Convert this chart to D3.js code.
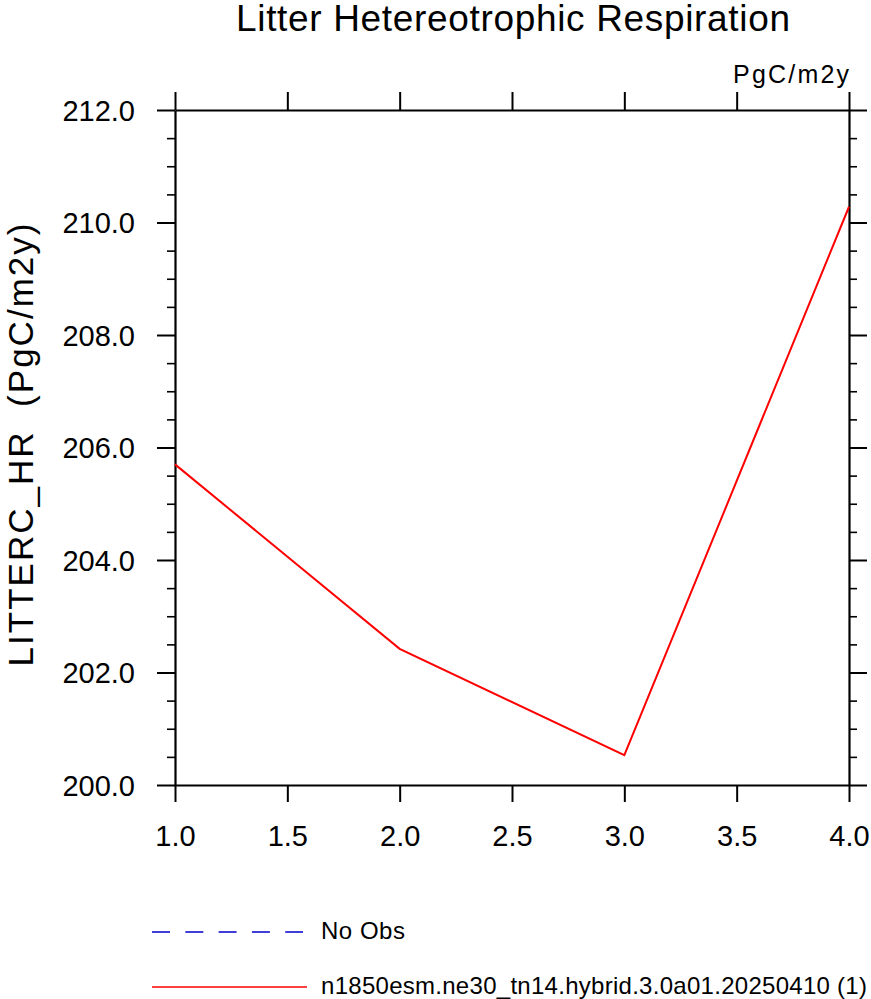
<!DOCTYPE html>
<html>
<head>
<meta charset="utf-8">
<script src="https://cdn.jsdelivr.net/npm/d3@7"></script>
<style>
  body { margin: 0; background: #fff; }
  svg text { font-family: "Liberation Sans", Arial, Helvetica, sans-serif; fill: #000; }
</style>
</head>
<body>
<div id="chart"></div>
<script>
const xValues = [1, 2, 3, 4];
const litterHR = [205.70, 202.42, 200.53, 210.28];
const xTicks = [1.0, 1.5, 2.0, 2.5, 3.0, 3.5, 4.0];
const yTicks = [200, 202, 204, 206, 208, 210, 212];
const legendLabels = ["No Obs", "n1850esm.ne30_tn14.hybrid.3.0a01.20250410 (1)"];

const w = 871, h = 999;
const plotLeft = 175, plotRight = 849, plotTop = 110, plotBottom = 785;

const svg = d3.select("#chart").append("svg")
    .attr("width", w)
    .attr("height", h);

const xScale = d3.scaleLinear().domain([1, 4]).range([plotLeft, plotRight]);
const yScale = d3.scaleLinear().domain([200, 212]).range([plotBottom, plotTop]);

const minorY = d3.range(200, 212.01, 0.5).filter(v => Math.abs(v / 2 - Math.round(v / 2)) > 1e-6);

function styleAxis(g) {
    g.select(".domain").attr("stroke-width", 2.2);
    g.selectAll(".tick line").attr("stroke-width", 2);
}

// minor ticks on y sides
[[d3.axisLeft, plotLeft], [d3.axisRight, plotRight]].forEach(([fn, x]) => {
    svg.append("g")
        .attr("transform", "translate(" + x + ",0)")
        .call(fn(yScale).tickValues(minorY).tickSize(8).tickFormat(""))
        .call(g => g.select(".domain").remove())
        .call(g => g.selectAll(".tick line").attr("stroke-width", 1.6));
});

svg.append("g")
    .attr("transform", "translate(0," + plotBottom + ")")
    .call(d3.axisBottom(xScale).tickValues(xTicks).tickSize(17).tickSizeOuter(0).tickPadding(23)
        .tickFormat(d3.format(".1f")))
    .call(styleAxis)
    .call(g => g.selectAll("text").attr("font-size", 29));

svg.append("g")
    .attr("transform", "translate(0," + plotTop + ")")
    .call(d3.axisTop(xScale).tickValues(xTicks).tickSize(18).tickSizeOuter(0).tickFormat(""))
    .call(styleAxis);

svg.append("g")
    .attr("transform", "translate(" + plotLeft + ",0)")
    .call(d3.axisLeft(yScale).tickValues(yTicks).tickSize(18).tickSizeOuter(0).tickPadding(22)
        .tickFormat(d3.format(".1f")))
    .call(styleAxis)
    .call(g => g.selectAll("text").attr("font-size", 29).attr("dy", "0.36em"));

svg.append("g")
    .attr("transform", "translate(" + plotRight + ",0)")
    .call(d3.axisRight(yScale).tickValues(yTicks).tickSize(18).tickSizeOuter(0).tickFormat(""))
    .call(styleAxis);

const line = d3.line()
    .x((d, i) => xScale(xValues[i]))
    .y(d => yScale(d));

svg.append("path")
    .datum(litterHR)
    .attr("fill", "none")
    .attr("stroke", "#ff0000")
    .attr("stroke-width", 2)
    .attr("d", line);

svg.append("text")
    .attr("x", 513)
    .attr("y", 31)
    .attr("text-anchor", "middle")
    .attr("font-size", 37)
    .attr("textLength", 554)
    .attr("lengthAdjust", "spacing")
    .text("Litter Hetereotrophic Respiration");

svg.append("text")
    .attr("x", plotRight)
    .attr("y", 83)
    .attr("text-anchor", "end")
    .attr("font-size", 25)
    .attr("textLength", 116)
    .attr("lengthAdjust", "spacing")
    .text("PgC/m2y");

svg.append("text")
    .attr("transform", "translate(33,445) rotate(-90)")
    .attr("text-anchor", "middle")
    .attr("font-size", 35)
    .attr("textLength", 443)
    .attr("lengthAdjust", "spacing")
    .style("white-space", "pre")
    .text("LITTERC_HR  (PgC/m2y)");

// legend
const legend = svg.append("g");
const legY = [932, 987];
legend.append("line")
    .attr("x1", 152).attr("x2", 303)
    .attr("y1", legY[0]).attr("y2", legY[0])
    .attr("stroke", "#0000cc")
    .attr("stroke-width", 1.3)
    .attr("stroke-dasharray", "18,15.3");
legend.append("line")
    .attr("x1", 152).attr("x2", 307)
    .attr("y1", legY[1]).attr("y2", legY[1])
    .attr("stroke", "#ff0000")
    .attr("stroke-width", 1.3);
legend.selectAll("text.leg")
    .data(legendLabels)
    .enter()
    .append("text")
    .attr("class", "leg")
    .attr("x", 321)
    .attr("y", (d, i) => legY[i] + 7)
    .attr("font-size", 24)
    .attr("textLength", (d, i) => i === 0 ? 84 : 546)
    .attr("lengthAdjust", "spacing")
    .text(d => d);
</script>
</body>
</html>
